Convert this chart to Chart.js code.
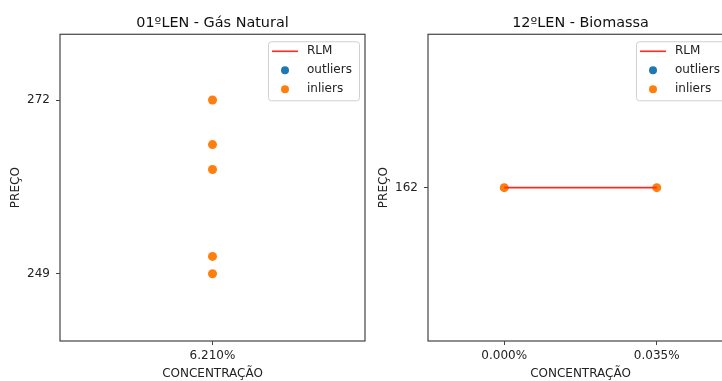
<!DOCTYPE html>
<html>
<head>
<meta charset="utf-8">
<script src="https://cdn.jsdelivr.net/npm/chart.js@4/dist/chart.umd.min.js"></script>
<style>
  html, body { margin: 0; padding: 0; background: #fff; overflow: hidden; }
  body { width: 722px; height: 381px; position: relative; }
  .painel { position: absolute; top: 0; width: 370px; height: 381px; }
  #painelGas { left: 0; }
  #painelBio { left: 370px; }
</style>
</head>
<body>
<div class="painel" id="painelGas"><canvas id="graficoGas"></canvas></div>
<div class="painel" id="painelBio"><canvas id="graficoBio"></canvas></div>
<script>
var titulos = ['01ºLEN - Gás Natural', '12ºLEN - Biomassa'];

// 01ºLEN - Gás Natural
var gasConcentracao = [6.21, 6.21, 6.21, 6.21, 6.21];
var gasPreco = [272, 266.1, 262.8, 251.3, 249];
var gasTicksX = [6.21];
var gasTicksY = [249, 272];

// 12ºLEN - Biomassa
var bioConcentracao = [0.0, 0.035];
var bioPreco = [162, 162];
var bioRlmConcentracao = [0.0, 0.035];
var bioRlmPreco = [162, 162];
var bioTicksX = [0.0, 0.035];
var bioTicksY = [162];

var fonte = 'DejaVu Sans';
Chart.defaults.font.family = fonte;
Chart.defaults.color = '#222';
Chart.defaults.animation = false;

function pontos(xs, ys) {
  return xs.map(function (x, i) { return { x: x, y: ys[i] }; });
}

// moldura completa em volta da area do grafico
var moldura = {
  id: 'moldura',
  afterDraw: function (chart) {
    var a = chart.chartArea, ctx = chart.ctx;
    ctx.save();
    ctx.strokeStyle = '#444';
    ctx.lineWidth = 1.2;
    ctx.strokeRect(a.left, a.top, a.right - a.left, a.bottom - a.top);
    ctx.restore();
  }
};

// legenda dentro do grafico, no canto superior direito
var legendaInterna = {
  id: 'legendaInterna',
  afterDraw: function (chart) {
    var a = chart.chartArea, ctx = chart.ctx;
    var w = 91, h = 59;
    var x0 = a.right - 6 - w, y0 = a.top + 7;
    ctx.save();
    ctx.fillStyle = 'rgba(255,255,255,0.85)';
    ctx.strokeStyle = '#d0d0d0';
    ctx.lineWidth = 1;
    ctx.beginPath();
    ctx.roundRect(x0 + 0.5, y0 + 0.5, w, h, 3);
    ctx.fill();
    ctx.stroke();
    ctx.font = '12px ' + fonte;
    ctx.textBaseline = 'middle';
    chart.data.datasets.forEach(function (ds, i) {
      var yy = y0 + 10 + i * 19;
      if (ds.type === 'line') {
        ctx.strokeStyle = ds.borderColor;
        ctx.lineWidth = 1.6;
        ctx.beginPath();
        ctx.moveTo(x0 + 4, yy);
        ctx.lineTo(x0 + 30, yy);
        ctx.stroke();
      } else {
        ctx.fillStyle = ds.backgroundColor;
        ctx.beginPath();
        ctx.arc(x0 + 17, yy, 4, 0, Math.PI * 2);
        ctx.fill();
      }
      ctx.fillStyle = '#222';
      ctx.fillText(ds.label, x0 + 39, yy);
    });
    ctx.restore();
  }
};

function montaGrafico(id, titulo, conjuntos, limX, limY, ticksX, ticksY, larguraY, padTituloY, padDireita) {
  return new Chart(document.getElementById(id), {
    type: 'scatter',
    data: { datasets: conjuntos },
    options: {
      responsive: true,
      maintainAspectRatio: false,
      layout: { padding: { right: padDireita, bottom: 0 } },
      plugins: {
        legend: { display: false },
        tooltip: { enabled: false },
        title: {
          display: true,
          fullSize: false,
          text: titulo,
          font: { size: 14.4, weight: 'normal' },
          color: '#111',
          padding: { top: 15, bottom: 2 }
        }
      },
      scales: {
        x: {
          type: 'linear',
          min: limX[0],
          max: limX[1],
          afterBuildTicks: function (s) { s.ticks = ticksX.map(function (v) { return { value: v }; }); },
          afterFit: function (s) { s.height = 40; },
          grid: { drawOnChartArea: false, tickLength: 4, color: '#444', tickColor: '#444' },
          border: { display: false },
          ticks: {
            font: { size: 12 },
            color: '#222',
            padding: 4,
            maxRotation: 0,
            callback: function (v) { return Number(v).toFixed(3) + '%'; }
          },
          title: { display: true, text: 'CONCENTRAÇÃO', font: { size: 12 }, color: '#222', padding: { top: 0, bottom: 0 } }
        },
        y: {
          type: 'linear',
          min: limY[0],
          max: limY[1],
          afterBuildTicks: function (s) { s.ticks = ticksY.map(function (v) { return { value: v }; }); },
          afterFit: function (s) { s.width = larguraY; },
          grid: { drawOnChartArea: false, tickLength: 4, color: '#444', tickColor: '#444' },
          border: { display: false },
          ticks: {
            font: { size: 12 },
            color: '#222',
            padding: 6,
            callback: function (v) { return String(v); }
          },
          title: { display: true, text: 'PREÇO', font: { size: 12 }, color: '#222', padding: { top: padTituloY, bottom: 0 } }
        }
      }
    },
    plugins: [moldura, legendaInterna]
  });
}

function conjuntosBase(rlmPontos, inliersPontos) {
  return [
    {
      type: 'line',
      label: 'RLM',
      data: rlmPontos,
      borderColor: '#ff2a1a',
      backgroundColor: '#ff2a1a',
      borderWidth: 1.6,
      pointRadius: 0,
      showLine: true,
      fill: false
    },
    {
      label: 'outliers',
      data: [],
      backgroundColor: '#1f77b4',
      borderWidth: 0,
      pointRadius: 4.5
    },
    {
      label: 'inliers',
      data: inliersPontos,
      backgroundColor: '#ff7f0e',
      borderWidth: 0,
      pointRadius: 4.5
    }
  ];
}

montaGrafico('graficoGas', titulos[0],
  conjuntosBase([], pontos(gasConcentracao, gasPreco)),
  [5.868, 6.552], [240.1, 280.7], gasTicksX, gasTicksY, 60, 9, 5);

montaGrafico('graficoBio', titulos[1],
  conjuntosBase(pontos(bioRlmConcentracao, bioRlmPreco), pontos(bioConcentracao, bioPreco)),
  [-0.0175, 0.0525], [153.09, 170.91], bioTicksX, bioTicksY, 58, 7, 7);
</script>
</body>
</html>
